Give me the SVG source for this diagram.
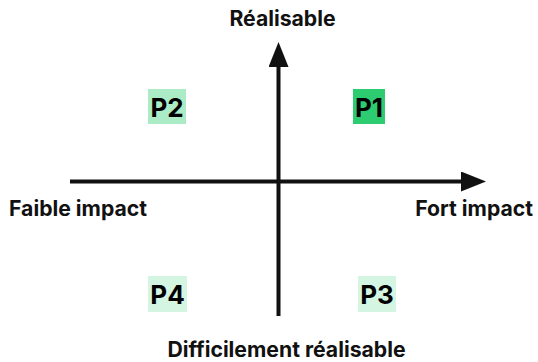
<svg xmlns="http://www.w3.org/2000/svg" width="538" height="362" viewBox="0 0 538 362">
<style>
.lbl{font-family:Inter,"Noto Sans","Liberation Sans",sans-serif;font-weight:700;font-size:21.2px;fill:#111}
.p{font-family:Inter,"Noto Sans","Liberation Sans",sans-serif;font-weight:700;font-size:26px;fill:#000}
.ax{stroke:#111;stroke-width:4;fill:none}
</style>
<defs>
<marker id="ah" viewBox="0 0 25 20" refX="0" refY="10" markerWidth="25" markerHeight="20" markerUnits="userSpaceOnUse" orient="auto">
<path d="M0,0 L25,10 L0,20 Z" fill="#111"/>
</marker>
</defs>
<rect width="538" height="362" fill="#fff"/>
<g id="connectors">
<line class="ax" x1="70" y1="181.5" x2="461" y2="181.5" marker-end="url(#ah)"/>
<line class="ax" x1="278.5" y1="316" x2="278.5" y2="67" marker-end="url(#ah)"/>
</g>
<g id="label-top"><text class="lbl" x="282.5" y="26" text-anchor="middle">Réalisable</text></g>
<g id="label-bottom"><text class="lbl" x="286.5" y="357" text-anchor="middle">Difficilement réalisable</text></g>
<g id="label-left"><text class="lbl" x="9" y="216">Faible impact</text></g>
<g id="label-right"><text class="lbl" x="533" y="216" text-anchor="end">Fort impact</text></g>
<g id="p1"><rect x="353" y="89" width="32" height="35" fill="#2ecc71"/><text class="p" x="369" y="117" text-anchor="middle">P1</text></g>
<g id="p2"><rect x="148" y="89" width="38" height="35" fill="#abebc6"/><text class="p" x="167" y="117" text-anchor="middle">P2</text></g>
<g id="p3"><rect x="358" y="276" width="38" height="36" fill="#d5f5e3"/><text class="p" x="377" y="304" text-anchor="middle">P3</text></g>
<g id="p4"><rect x="148" y="276" width="39" height="36" fill="#d5f5e3"/><text class="p" x="167.5" y="304" text-anchor="middle">P4</text></g>
</svg>
